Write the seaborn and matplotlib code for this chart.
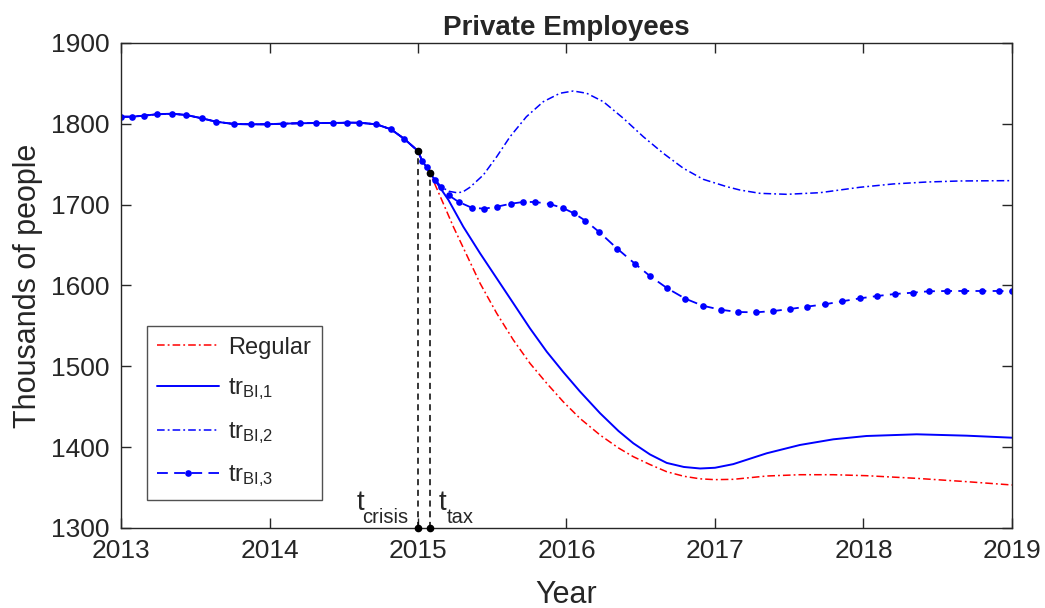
import numpy as np
import pandas as pd
import matplotlib
matplotlib.use('Agg')
import matplotlib.pyplot as plt
import seaborn as sns

# Values (years, thousands of people)
pre_t = [2013.0, 2013.074, 2013.155, 2013.24, 2013.343, 2013.44, 2013.545, 2013.64,
         2013.76, 2013.873, 2013.981, 2014.09, 2014.205, 2014.313, 2014.428, 2014.52,
         2014.603, 2014.72, 2014.818, 2014.906, 2015.0, 2015.027, 2015.059, 2015.08]
pre_v = [1808.8, 1808.8, 1810.1, 1811.8, 1812.5, 1810.9, 1806.8, 1802.6,
         1799.8, 1799.4, 1799.4, 1800.2, 1800.7, 1801.0, 1801.0, 1801.4,
         1801.4, 1799.4, 1793.2, 1781.6, 1766.4, 1754.4, 1746.2, 1739.5]

regular_t = [2015.16, 2015.238, 2015.328, 2015.418, 2015.53, 2015.642, 2015.754, 2015.867,
             2015.978, 2016.09, 2016.226, 2016.35, 2016.45, 2016.562, 2016.675, 2016.79,
             2016.9, 2017.0, 2017.123, 2017.348, 2017.572, 2017.797, 2018.02, 2018.358,
             2018.695, 2019.0]
regular_v = [1705.8, 1672.7, 1637.7, 1602.7, 1565.6, 1532.6, 1503.7, 1479.0,
             1456.2, 1435.7, 1415.0, 1399.0, 1388.2, 1378.5, 1369.6, 1364.0,
             1360.8, 1359.8, 1360.2, 1364.3, 1365.9, 1365.9, 1364.7, 1361.4,
             1357.3, 1353.2]

bi1_t = [2015.205, 2015.305, 2015.418, 2015.53, 2015.642, 2015.754, 2015.867, 2015.978,
         2016.09, 2016.226, 2016.35, 2016.45, 2016.562, 2016.675, 2016.79, 2016.9,
         2017.0, 2017.123, 2017.348, 2017.572, 2017.797, 2018.02, 2018.358, 2018.695,
         2019.0]
bi1_v = [1705.8, 1672.7, 1639.8, 1608.9, 1578.0, 1547.0, 1518.1, 1493.0,
         1469.0, 1442.0, 1420.0, 1404.8, 1391.0, 1380.5, 1375.5, 1373.6,
         1374.5, 1379.0, 1392.4, 1402.7, 1409.7, 1413.8, 1415.9, 1414.2,
         1411.7]

bi2_t = [2015.117, 2015.155, 2015.21, 2015.26, 2015.3, 2015.35, 2015.44, 2015.53,
         2015.62, 2015.73, 2015.844, 2015.956, 2016.046, 2016.136, 2016.248, 2016.383,
         2016.517, 2016.652, 2016.787, 2016.92, 2017.08, 2017.168, 2017.303, 2017.483,
         2017.707, 2017.976, 2018.2, 2018.425, 2018.65, 2019.0]
bi2_v = [1730.5, 1722.0, 1716.5, 1714.8, 1715.5, 1721.5, 1736.7, 1759.3,
         1784.1, 1808.8, 1827.4, 1837.8, 1840.6, 1837.8, 1827.4, 1806.8,
         1784.1, 1763.5, 1745.0, 1731.4, 1722.2, 1718.1, 1714.0, 1712.8,
         1714.8, 1721.5, 1725.6, 1728.0, 1729.3, 1729.7]

bi3_t = [2015.117, 2015.155, 2015.207, 2015.274, 2015.362, 2015.446, 2015.532, 2015.626,
         2015.709, 2015.79, 2015.887, 2015.976, 2016.05, 2016.127, 2016.22, 2016.342,
         2016.463, 2016.562, 2016.679, 2016.8, 2016.917, 2017.038, 2017.155, 2017.276,
         2017.393, 2017.505, 2017.617, 2017.739, 2017.855, 2017.976, 2018.093, 2018.214,
         2018.331, 2018.439, 2018.56, 2018.677, 2018.798, 2018.91, 2019.0]
bi3_v = [1730.5, 1721.8, 1711.6, 1703.3, 1696.2, 1695.0, 1697.5, 1701.2,
         1703.3, 1703.3, 1700.8, 1695.8, 1689.3, 1680.2, 1666.2, 1645.5,
         1626.6, 1611.7, 1596.5, 1583.7, 1575.0, 1570.0, 1567.2, 1566.8,
         1568.4, 1570.9, 1573.8, 1576.7, 1580.4, 1584.1, 1587.0, 1589.5,
         1591.1, 1592.8, 1593.2, 1593.2, 1593.2, 1593.2, 1592.8]

t_events = [2015.0, 2015.08]
v_events = [1766.4, 1739.5]
event_names = ['crisis', 'tax']

sns.set_style('ticks')
plt.rcParams['font.family'] = ['Liberation Sans', 'DejaVu Sans']
plt.rcParams['mathtext.fontset'] = 'custom'
plt.rcParams['mathtext.rm'] = 'Liberation Sans'
plt.rcParams['mathtext.it'] = 'Liberation Sans:italic'
dark = '#262626'

fig = plt.figure(figsize=(10.45, 6.08), dpi=100)
ax = fig.add_axes([0.1158, 0.1316, 0.8526, 0.7977])

def branch(t, v):
    return pd.DataFrame({'Year': pre_t + t, 'Value': pre_v + v})

dashdot = (0, (5, 2, 1.2, 2))
sns.lineplot(data=branch(regular_t, regular_v), x='Year', y='Value', ax=ax, sort=False,
             estimator=None, color='red', linestyle=dashdot, linewidth=1.1,
             label='Regular')
sns.lineplot(data=branch(bi1_t, bi1_v), x='Year', y='Value', ax=ax, sort=False,
             estimator=None, color='blue', linestyle='-', linewidth=1.4,
             label=r'$\mathregular{tr_{BI{,}1}}$')
sns.lineplot(data=branch(bi2_t, bi2_v), x='Year', y='Value', ax=ax, sort=False,
             estimator=None, color='blue', linestyle=dashdot, linewidth=1.1,
             label=r'$\mathregular{tr_{BI{,}2}}$')
sns.lineplot(data=branch(bi3_t, bi3_v), x='Year', y='Value', ax=ax, sort=False,
             estimator=None, color='blue', linestyle=(0, (6, 3.5)), linewidth=1.3,
             marker='o', markersize=4.8, markeredgewidth=0,
             label=r'$\mathregular{tr_{BI{,}3}}$')

# event markers: dashed drop lines with dots at both ends
for t, v in zip(t_events, v_events):
    ax.plot([t, t], [1300, v], color='black', linestyle=(0, (4, 3)), linewidth=1.1,
            zorder=3)
    ax.plot([t, t], [1300, v], color='black', linestyle='none', marker='o',
            markersize=4.5, clip_on=False, zorder=4)

# t_crisis (left of its line) and t_tax (right of its line)
ax.annotate('t', xy=(t_events[0], 1300), xytext=(-39, 13), textcoords='offset points',
            ha='right', va='baseline', fontsize=20)
ax.annotate(event_names[0], xy=(t_events[0], 1300), xytext=(-7, 3.6),
            textcoords='offset points', ha='right', va='baseline', fontsize=14.5)
ax.annotate('t', xy=(t_events[1], 1300), xytext=(6.5, 13), textcoords='offset points',
            ha='left', va='baseline', fontsize=20)
ax.annotate(event_names[1], xy=(t_events[1], 1300), xytext=(12.5, 3.6),
            textcoords='offset points', ha='left', va='baseline', fontsize=14.5)

ax.set_xlim(2013, 2019)
ax.set_ylim(1300, 1900)
ax.set_xticks(range(2013, 2020))
ax.set_yticks(range(1300, 1901, 100))
ax.tick_params(direction='in', top=True, right=True, length=7, width=1,
               labelsize=19, colors=dark, labelcolor=dark, pad=8)
for s in ax.spines.values():
    s.set_color(dark)
    s.set_linewidth(1)

ax.set_title('Private Employees', fontsize=20, fontweight='bold', pad=6)
ax.set_xlabel('Year', fontsize=22, color=dark, labelpad=12)
ax.set_ylabel('Thousands of people', fontsize=22, color=dark, labelpad=6)

leg = ax.legend(loc='lower left', bbox_to_anchor=(0.029, 0.058), borderaxespad=0,
                fontsize=17, fancybox=False, frameon=True, edgecolor=dark,
                handlelength=2.6, labelspacing=0.75, borderpad=0.45,
                handletextpad=0.4)
leg.get_frame().set_linewidth(1)

plt.savefig('out.png', dpi=100)
